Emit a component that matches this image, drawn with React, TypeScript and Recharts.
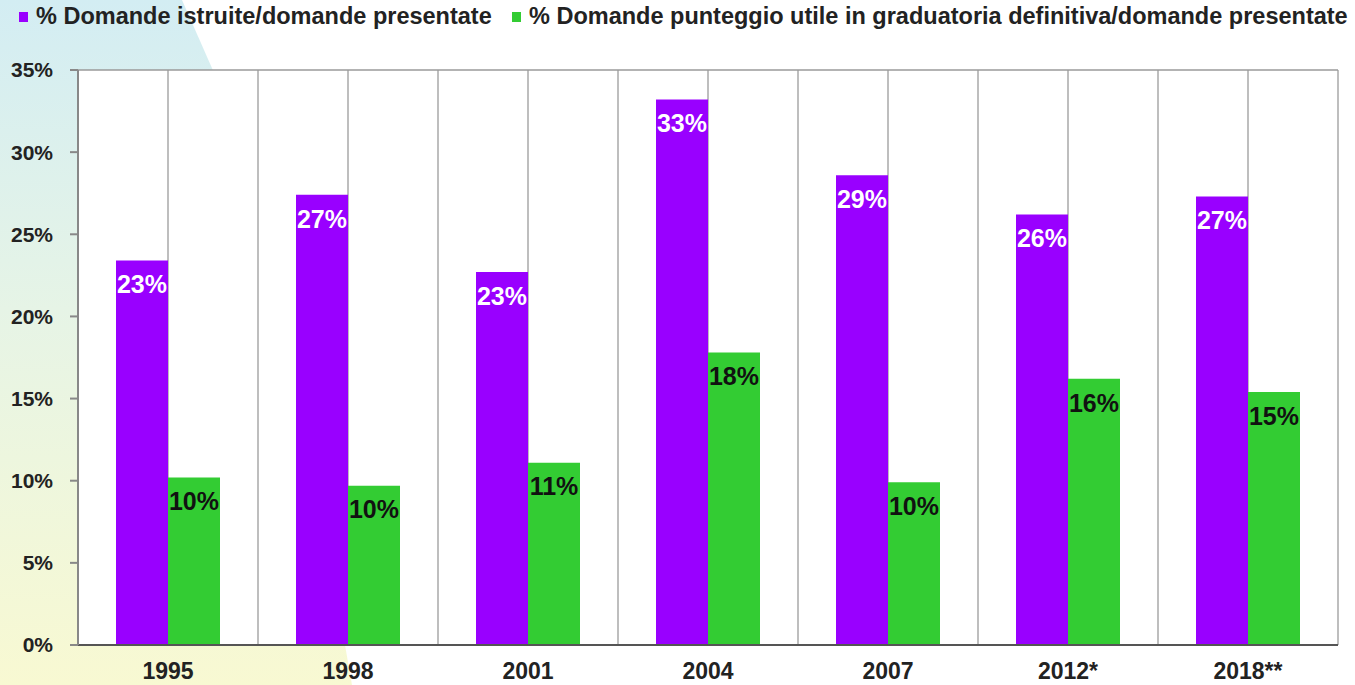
import { BarChart, Bar, XAxis, YAxis, CartesianGrid, ReferenceLine, LabelList } from 'recharts';

const years = ['1995', '1998', '2001', '2004', '2007', '2012*', '2018**'];
const istruite = [23.4, 27.4, 22.7, 33.2, 28.6, 26.2, 27.3];
const utili = [10.2, 9.7, 11.1, 17.8, 9.9, 16.2, 15.4];
const yTicks = [0, 5, 10, 15, 20, 25, 30, 35];
const seriesNames = [
  '% Domande istruite/domande presentate',
  '% Domande punteggio utile in graduatoria definitiva/domande presentate',
];
const colors = ['#9900ff', '#33cc33'];

const data = years.map((year, i) => ({ year, istruite: istruite[i], utili: utili[i] }));

const font = '"Liberation Sans", Arial, sans-serif';
const pct = (v: number) => `${Math.round(v)}%`;

export default function App() {
  return (
    <div style={{ position: 'absolute', left: 0, top: 0, width: 1355, height: 685, background: '#fff', fontFamily: font }}>
      {/* slide background decoration */}
      <svg width={1355} height={685} style={{ position: 'absolute', left: 0, top: 0 }}>
        <defs>
          <linearGradient id="bgGrad" x1="0" y1="0" x2="0" y2="1">
            <stop offset="0%" stopColor="#d3edf3" />
            <stop offset="45%" stopColor="#e6f4e6" />
            <stop offset="100%" stopColor="#f8f9d2" />
          </linearGradient>
        </defs>
        <polygon points="0,0 182,0 215,75 345,645 352,685 0,685" fill="url(#bgGrad)" />
      </svg>

      {/* legend */}
      <div style={{ position: 'absolute', top: 3, left: 0, fontWeight: 'bold', fontSize: 23.5, color: '#222', whiteSpace: 'nowrap' }}>
        {seriesNames.map((name, i) => (
          <div key={name} style={{ position: 'absolute', left: i === 0 ? 19 : 512, top: 0, display: 'flex', alignItems: 'center' }}>
            <span style={{ display: 'inline-block', width: 9, height: 10, background: colors[i], marginRight: 8 }} />
            <span>{name}</span>
          </div>
        ))}
      </div>

      <div style={{ position: 'absolute', left: 0, top: 0 }}>
        <BarChart
          width={1355}
          height={685}
          data={data}
          margin={{ top: 70, right: 17, bottom: 0, left: 0 }}
          barGap={0}
          barSize={52}
        >
          <CartesianGrid
            horizontal={false}
            fill="#ffffff"
            fillOpacity={1}
            stroke="#a8a8a8"
            strokeWidth={1.5}
            verticalCoordinatesGenerator={({ offset }: any) =>
              Array.from({ length: 15 }, (_, i) => offset.left + (i * offset.width) / 14)
            }
          />
          <ReferenceLine y={35} stroke="#9a9a9a" strokeWidth={1.5} />
          <XAxis
            dataKey="year"
            height={40}
            tickLine={false}
            tickSize={8}
            tickMargin={10}
            stroke="#555"
            strokeWidth={2}
            tick={{ fill: '#222', fontSize: 23, fontWeight: 'bold', fontFamily: font }}
          />
          <YAxis
            width={78}
            domain={[0, 35]}
            ticks={yTicks}
            tickFormatter={(v: number) => `${v}%`}
            tickSize={8}
            tickMargin={17}
            stroke="#888"
            strokeWidth={2}
            tick={{ fill: '#222', fontSize: 21, fontWeight: 'bold', fontFamily: font }}
          />
          <Bar dataKey="istruite" fill={colors[0]} isAnimationActive={false}>
            <LabelList
              dataKey="istruite"
              position="insideTop"
              offset={15}
              formatter={pct}
              fill="#ffffff"
              style={{ fontSize: 25, fontWeight: 'bold', fontFamily: font }}
            />
          </Bar>
          <Bar dataKey="utili" fill={colors[1]} isAnimationActive={false}>
            <LabelList
              dataKey="utili"
              position="insideTop"
              offset={15}
              formatter={pct}
              fill="#111111"
              style={{ fontSize: 25, fontWeight: 'bold', fontFamily: font }}
            />
          </Bar>
        </BarChart>
      </div>
    </div>
  );
}
